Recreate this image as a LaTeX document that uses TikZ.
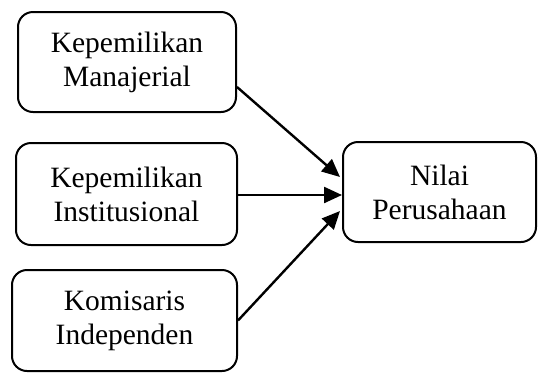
\documentclass[tikz,border=0pt]{standalone}
\usepackage{fontspec}
\setmainfont{Liberation Serif}
\usetikzlibrary{arrows.meta}
\begin{document}
\begin{tikzpicture}[x=1pt,y=-1pt,
  box/.style={draw,line width=2pt,rounded corners=15pt,align=center,inner sep=0pt,
    font=\fontsize{29.5}{34}\selectfont},
  arr/.style={line width=2.4pt,-{Triangle[length=18pt,width=16pt]}}]
\useasboundingbox (0,0) rectangle (538,373);
\node[box,minimum width=218pt,minimum height=100pt] (b1) at (127,62) {Kepemilikan\\Manajerial};
\node[box,minimum width=221pt,minimum height=102pt] (b2) at (126.5,194) {Kepemilikan\\Institusional};
\node[box,minimum width=225pt,minimum height=101pt] (b3) at (124.5,320.5) {Komisaris\\Independen};
\node[box,minimum width=193pt,minimum height=100pt] (np) at (439.5,192) {Nilai\\Perusahaan};
\draw[arr] ([yshift=-25pt]b1.east) -- ([xshift=-2pt,yshift=15pt]np.west);
\draw[arr] ([yshift=-1pt]b2.east) -- ([yshift=-3pt]np.west);
\draw[arr] (b3.east) -- ([xshift=-2pt,yshift=-19pt]np.west);
\end{tikzpicture}
\end{document}
